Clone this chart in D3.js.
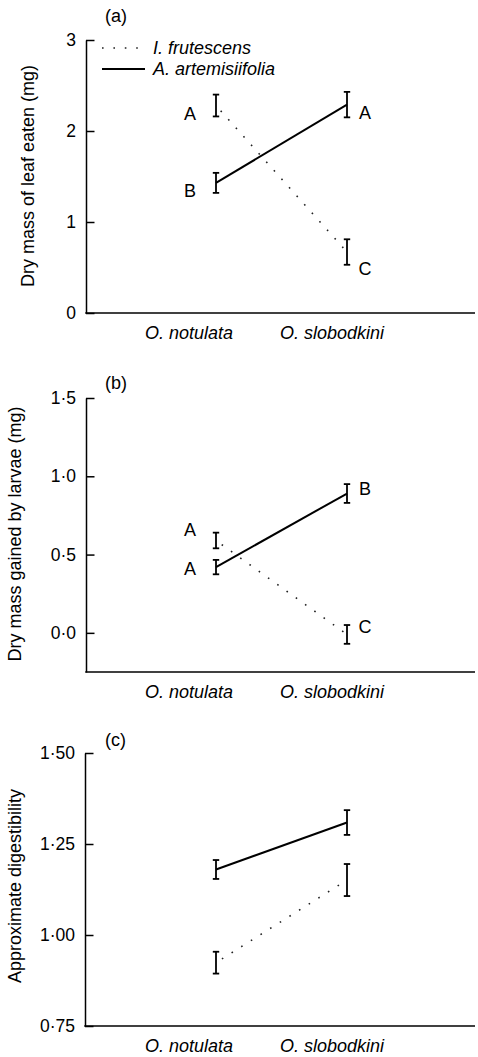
<!DOCTYPE html>
<html>
<head>
<meta charset="utf-8">
<script src="https://cdn.jsdelivr.net/npm/d3@7"></script>
<style>
  html, body { margin: 0; padding: 0; background: #fff; }
  svg text { font-family: "Liberation Sans", Arial, Helvetica, sans-serif; fill: #000; }
</style>
</head>
<body>
<svg id="chart" width="478" height="1057"></svg>
<script>
// ---------- data ----------
const categories = ["O. notulata", "O. slobodkini"];
const seriesNames = ["I. frutescens", "A. artemisiifolia"];

// (a) Dry mass of leaf eaten (mg)
const leafFrutescens = [2.28, 0.67];
const leafFrutescensSE = [0.12, 0.14];
const leafArtemisiifolia = [1.43, 2.29];
const leafArtemisiifoliaSE = [0.11, 0.14];
const leafTicks = [0, 1, 2, 3];
const leafTickLabels = ["0", "1", "2", "3"];
const leafLetters = [
  { cat: 0, letter: "A", at: 2.19 },
  { cat: 0, letter: "B", at: 1.34 },
  { cat: 1, letter: "A", at: 2.20 },
  { cat: 1, letter: "C", at: 0.49 }
];

// (b) Dry mass gained by larvae (mg)
const gainFrutescens = [0.59, -0.01];
const gainFrutescensSE = [0.05, 0.06];
const gainArtemisiifolia = [0.42, 0.89];
const gainArtemisiifoliaSE = [0.046, 0.06];
const gainTicks = [0, 0.5, 1.0, 1.5];
const gainTickLabels = ["0·0", "0·5", "1·0", "1·5"];
const gainLetters = [
  { cat: 0, letter: "A", at: 0.66 },
  { cat: 0, letter: "A", at: 0.41 },
  { cat: 1, letter: "B", at: 0.92 },
  { cat: 1, letter: "C", at: 0.04 }
];

// (c) Approximate digestibility
const digestFrutescens = [0.924, 1.151];
const digestFrutescensSE = [0.03, 0.044];
const digestArtemisiifolia = [1.18, 1.309];
const digestArtemisiifoliaSE = [0.026, 0.034];
const digestTicks = [0.75, 1.0, 1.25, 1.5];
const digestTickLabels = ["0·75", "1·00", "1·25", "1·50"];
const digestLetters = [];

// ---------- layout ----------
const svg = d3.select("#chart");
const FONT = 18;

const panels = [
  {
    tag: "(a)", title: "Dry mass of leaf eaten (mg)",
    domain: [0, 3], top: 40, bottom: 313, axisX: 86,
    ticks: leafTicks, tickLabels: leafTickLabels,
    fr: leafFrutescens, frSE: leafFrutescensSE,
    ar: leafArtemisiifolia, arSE: leafArtemisiifoliaSE,
    letters: leafLetters, legend: true,
    titleX: 34, titleY: 176, tagY: 22
  },
  {
    tag: "(b)", title: "Dry mass gained by larvae (mg)",
    domain: [-0.25, 1.5], top: 398, bottom: 672, axisX: 86,
    ticks: gainTicks, tickLabels: gainTickLabels,
    fr: gainFrutescens, frSE: gainFrutescensSE,
    ar: gainArtemisiifolia, arSE: gainArtemisiifoliaSE,
    letters: gainLetters, legend: false,
    titleX: 21, titleY: 534, tagY: 389
  },
  {
    tag: "(c)", title: "Approximate digestibility",
    domain: [0.75, 1.5], top: 753, bottom: 1026, axisX: 85,
    ticks: digestTicks, tickLabels: digestTickLabels,
    fr: digestFrutescens, frSE: digestFrutescensSE,
    ar: digestArtemisiifolia, arSE: digestArtemisiifoliaSE,
    letters: digestLetters, legend: false,
    titleX: 21, titleY: 886, tagY: 746
  }
];

const x = d3.scalePoint().domain(categories).range([216, 347]);
const xLabel = d3.scalePoint().domain(categories).range([188.5, 331.5]);
const axisRight = 475;

panels.forEach(p => {
  const y = d3.scaleLinear().domain(p.domain).range([p.bottom, p.top]);
  const g = svg.append("g");

  // y axis
  const yAxis = d3.axisLeft(y)
    .tickValues(p.ticks)
    .tickFormat((d, i) => p.tickLabels[i])
    .tickSizeInner(-8.5)
    .tickSizeOuter(0)
    .tickPadding(10);
  const ya = g.append("g").attr("transform", `translate(${p.axisX},0)`).call(yAxis);
  ya.selectAll("path.domain").attr("stroke", "#000").attr("stroke-width", 1.5);
  ya.selectAll(".tick line").attr("stroke", "#000").attr("stroke-width", 1.5);
  ya.selectAll(".tick text")
    .style("font-size", "17.5px")
    .attr("fill", "#000");

  // x axis line
  g.append("line")
    .attr("x1", p.axisX - 0.75).attr("x2", axisRight)
    .attr("y1", p.bottom).attr("y2", p.bottom)
    .attr("stroke", "#000").attr("stroke-width", 1.5);

  // x labels
  const xAxis = d3.axisBottom(xLabel).tickSize(0).tickPadding(13);
  const xa = g.append("g").attr("transform", `translate(0,${p.bottom})`).call(xAxis);
  xa.select("path.domain").remove();
  xa.selectAll(".tick text")
    .style("font-size", FONT + "px")
    .style("font-style", "italic")
    .attr("fill", "#000");

  // y title
  g.append("text")
    .attr("transform", `translate(${p.titleX},${p.titleY}) rotate(-90)`)
    .attr("text-anchor", "middle")
    .style("font-size", FONT + "px")
    .text(p.title);

  // panel tag
  g.append("text")
    .attr("x", 105).attr("y", p.tagY)
    .style("font-size", FONT + "px")
    .text(p.tag);

  // lines
  const line = d3.line().x((d, i) => x(categories[i])).y(d => y(d));
  g.append("path")
    .datum(p.fr)
    .attr("d", line)
    .attr("fill", "none")
    .attr("stroke", "#222")
    .attr("stroke-width", 1.6)
    .attr("stroke-dasharray", "1.6,9.8")
    .attr("stroke-dashoffset", 4.4);
  g.append("path")
    .datum(p.ar)
    .attr("d", line)
    .attr("fill", "none")
    .attr("stroke", "#000")
    .attr("stroke-width", 2);

  // error bars
  const drawErr = (vals, ses) => {
    vals.forEach((v, i) => {
      const cx = x(categories[i]);
      const y1 = y(v + ses[i]), y2 = y(v - ses[i]);
      const eg = g.append("g").attr("stroke", "#000").attr("stroke-width", 1.8);
      eg.append("line").attr("x1", cx).attr("x2", cx).attr("y1", y1).attr("y2", y2);
      eg.append("line").attr("x1", cx - 3.2).attr("x2", cx + 3.2).attr("y1", y1).attr("y2", y1);
      eg.append("line").attr("x1", cx - 3.2).attr("x2", cx + 3.2).attr("y1", y2).attr("y2", y2);
    });
  };
  drawErr(p.fr, p.frSE);
  drawErr(p.ar, p.arSE);

  // significance letters
  g.selectAll("text.letter")
    .data(p.letters)
    .enter().append("text")
    .attr("class", "letter")
    .attr("x", d => x(categories[d.cat]) + (d.cat === 0 ? -26 : 18))
    .attr("y", d => y(d.at))
    .attr("dy", "0.35em")
    .attr("text-anchor", "middle")
    .style("font-size", FONT + "px")
    .text(d => d.letter);

  // legend
  if (p.legend) {
    const lg = g.append("g");
    const rows = [
      { name: seriesNames[0], dotted: true, y: 48 },
      { name: seriesNames[1], dotted: false, y: 69 }
    ];
    rows.forEach(r => {
      lg.append("line")
        .attr("x1", 102).attr("x2", 145)
        .attr("y1", r.y).attr("y2", r.y)
        .attr("stroke", r.dotted ? "#222" : "#000")
        .attr("stroke-width", r.dotted ? 1.6 : 2)
        .attr("stroke-dasharray", r.dotted ? "1.6,9.8" : null);
      lg.append("text")
        .attr("x", 153).attr("y", r.y)
        .attr("dy", "0.35em")
        .style("font-size", FONT + "px")
        .style("font-style", "italic")
        .text(r.name);
    });
  }
});
</script>
</body>
</html>
